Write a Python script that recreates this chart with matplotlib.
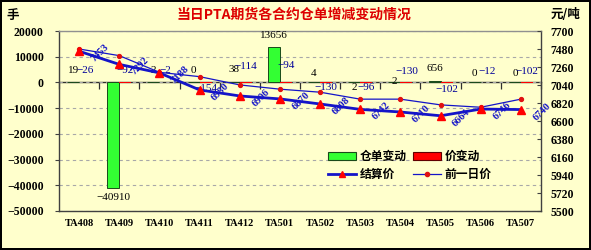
import matplotlib
matplotlib.use('Agg')
import matplotlib.pyplot as plt
import numpy as np
from matplotlib.lines import Line2D
from matplotlib.patches import Patch

# ---------------- data ----------------
categories = ['TA408', 'TA409', 'TA410', 'TA411', 'TA412', 'TA501',
              'TA502', 'TA503', 'TA504', 'TA505', 'TA506', 'TA507']
warehouse_change = [19, -40910, 2, 0, 38, 13656, 4, 2, 2, 656, 0, 0]
price_change = [-26, -92, -2, -154, -114, -94, -130, -96, -130, -102, -12, -102]
settle_price = [7453, 7292, 7188, 6980, 6906, 6870, 6808, 6742, 6710, 6664, 6746, 6740]
prev_price = [7480, 7399, 7195, 7142, 7041, 6989, 6952, 6867, 6867, 6797, 6768, 6867]

title = '当日PTA期货各合约仓单增减变动情况'
left_unit = '手'
right_unit = '元/吨'

# ---------------- styles ----------------
BG = '#FFFFCC'
GREEN = '#33FF33'
RED = '#FF0000'
BLUE = '#1414c8'
LBLUE = '#000099'
CJK = ['Noto Sans CJK SC', 'DejaVu Sans']
SERIF = ['Liberation Serif', 'DejaVu Serif']
# label vertical offsets (pixels, up positive) relative to bar ends
wh_label_off = [12, -10, 12, 12, 13, 12, 9, -5, 1, 12, 9, 9]
pc_label_off = [12, 12, 12, -6, 16, 17, -5, -5, 11, -7, 11, 11]

W, H = 591, 250
fig = plt.figure(figsize=(W / 100, H / 100), dpi=100)
fig.patch.set_facecolor(BG)
fig.patch.set_edgecolor('black')
fig.patch.set_linewidth(1.5)

ax = fig.add_axes([59 / W, 1 - 211 / H, (541 - 59) / W, (211 - 31) / H])
ax.set_facecolor(BG)

x = np.arange(len(categories))
bw = 0.3
ax.bar(x - bw / 2, warehouse_change, width=bw, color=GREEN, edgecolor='#1a4a1a',
       linewidth=0.7, zorder=3)
ax.bar(x + bw / 2, price_change, width=bw, color=RED, linewidth=0, zorder=3)

ymin, ymax = -50000, 20000
ax.set_ylim(ymin, ymax)
ax.set_xlim(-0.5, len(categories) - 0.5)
ax.set_yticks(np.arange(ymin, ymax + 1, 10000))
ax.yaxis.grid(True, linestyle=(0, (3, 3)), color='#a8a8a8', linewidth=0.8, zorder=0)
ax.set_axisbelow(True)

ax.set_xticks(x)
ax.set_xticklabels(categories)
ax.tick_params(axis='x', length=0, pad=6)
ax.tick_params(axis='y', direction='out', length=3, pad=8, color='#404040')
for lab in ax.get_xticklabels():
    lab.set_fontfamily(SERIF)
    lab.set_fontweight('bold')
    lab.set_fontsize(7.5)
for lab in ax.get_yticklabels():
    lab.set_fontfamily(SERIF)
    lab.set_fontweight('bold')
    lab.set_fontsize(8.5)

for s in ['left', 'bottom', 'right']:
    ax.spines[s].set_color('#404040')
    ax.spines[s].set_linewidth(1.0)
ax.spines['top'].set_color('#909090')
ax.spines['top'].set_linewidth(1.0)

# category axis crossing at zero, ticks at boundaries
zero_pos = (0 - ymin) / (ymax - ymin)
sec = ax.secondary_xaxis(zero_pos)
sec.set_xticks(np.arange(-0.5, len(categories), 1.0))
sec.tick_params(axis='x', direction='in', length=5, labeltop=False, labelbottom=False,
                color='#303030', width=0.9)
sec.spines['top'].set_color('#303030')
sec.spines['top'].set_linewidth(1.0)
sec.spines['bottom'].set_color('#303030')

# bar data labels
for xi, v, off in zip(x, warehouse_change, wh_label_off):
    ax.annotate(f'{v}'.replace('-', '\u2212'), (xi - bw / 2, v), xytext=(0, off),
                textcoords='offset pixels', ha='center', va='center',
                fontsize=8, color='black', family=SERIF, zorder=6)
for xi, v, off in zip(x, price_change, pc_label_off):
    ax.annotate(f'{v}'.replace('-', '\u2212'), (xi + bw / 2, v), xytext=(0, off),
                textcoords='offset pixels', ha='center', va='center',
                fontsize=8, color=LBLUE, family=SERIF, zorder=6)

# price axis
ax2 = ax.twinx()
ax2.set_ylim(5500, 7700)
ax2.set_yticks(np.arange(5500, 7701, 220))
ax2.tick_params(axis='y', direction='in', length=3, pad=7, color='#404040')
for lab in ax2.get_yticklabels():
    lab.set_fontfamily(SERIF)
    lab.set_fontweight('bold')
    lab.set_fontsize(8.5)
for s in ax2.spines.values():
    s.set_visible(False)

ax2.plot(x, prev_price, color=BLUE, linewidth=0.9, marker='o', markersize=2.8,
         markerfacecolor='#e01010', markeredgecolor='#e01010', zorder=4)
ax2.plot(x, settle_price, color=BLUE, linewidth=2.0, marker='^', markersize=5.5,
         markerfacecolor=RED, markeredgecolor=RED, zorder=5)
for xi, v in zip(x, settle_price):
    ax2.annotate(str(v), (xi, v), xytext=(21, -2), textcoords='offset pixels',
                 rotation=45, ha='center', va='center', fontsize=7.5,
                 fontweight='bold', color=BLUE, family=SERIF, zorder=6)

# legend
handles = [Patch(facecolor=GREEN, edgecolor='#1a4a1a', linewidth=0.8),
           Line2D([], [], color=BLUE, linewidth=2.0, marker='^', markersize=5,
                  markerfacecolor=RED, markeredgecolor=RED),
           Patch(facecolor=RED, edgecolor='#600000', linewidth=0.8),
           Line2D([], [], color=BLUE, linewidth=0.9, marker='o', markersize=3,
                  markerfacecolor='#e01010', markeredgecolor='#e01010')]
labels = ['仓单变动', '结算价', '价变动', '前一日价']
leg = ax2.legend(handles, labels, ncol=2, frameon=False, loc='upper left',
                 bbox_to_anchor=(328 / W, 1 - 150 / H), bbox_transform=fig.transFigure,
                 prop={'family': CJK, 'weight': 'bold', 'size': 8.5},
                 handlelength=2.4, handletextpad=0.3, columnspacing=0.5,
                 labelspacing=0.45, borderpad=0, borderaxespad=0)

# texts
fig.text(294 / W, 1 - 15 / H, title, ha='center', va='center', color='#dd0000',
         fontsize=10, fontweight='bold', family=CJK)
fig.text(13 / W, 1 - 15 / H, left_unit, ha='center', va='center',
         fontsize=9, fontweight='bold', family=CJK)
fig.text(566 / W, 1 - 15 / H, right_unit, ha='center', va='center',
         fontsize=9, fontweight='bold', family=CJK)

fig.savefig('out.png', dpi=100, facecolor=fig.get_facecolor(),
            edgecolor=fig.get_edgecolor())
